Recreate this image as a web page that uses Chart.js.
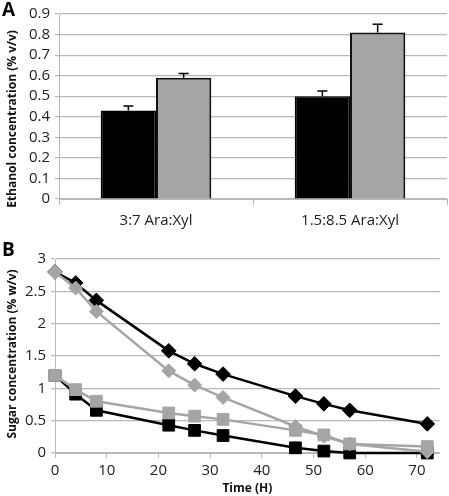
<!DOCTYPE html>
<html>
<head>
<meta charset="utf-8">
<script src="https://cdn.jsdelivr.net/npm/chart.js@4.4.0/dist/chart.umd.min.js"></script>
<style>
    body { margin: 0; background: #fff; width: 449px; height: 496px; position: relative; overflow: hidden; font-family: "Open Sans", sans-serif; }
    .panel { position: absolute; left: 0; }
    .tag { position: absolute; left: 2px; font: bold 19px "Open Sans", sans-serif; color: #000; }
</style>
</head>
<body>
<div class="panel" style="top:0"><canvas id="ethanolChart" width="449" height="240"></canvas></div>
<div class="panel" style="top:240px"><canvas id="sugarChart" width="449" height="256"></canvas></div>
<div class="tag" style="top:-4px">A</div>
<div class="tag" style="top:236px">B</div>
<script>
// Panel A - ethanol
const groups = ['3:7 Ara:Xyl', '1.5:8.5 Ara:Xyl'];
const ethanolBlack = [0.43, 0.50];
const errBlack = [0.022, 0.025];
const ethanolGray = [0.59, 0.81];
const errGray = [0.02, 0.04];

// Panel B - sugar
const timeH = [0, 4, 8, 22, 27, 32.5, 46.5, 52, 57, 72];
const diamondBlack = [2.8, 2.63, 2.36, 1.58, 1.38, 1.22, 0.88, 0.76, 0.66, 0.45];
const diamondGray = [2.8, 2.55, 2.19, 1.27, 1.05, 0.86, 0.41, 0.26, 0.14, 0.02];
const squareGray = [1.2, 0.98, 0.8, 0.62, 0.57, 0.52, 0.35, 0.28, 0.14, 0.1];
const squareBlack = [1.2, 0.91, 0.66, 0.43, 0.35, 0.27, 0.08, 0.03, 0.0, 0.0];
const timeTicks = [0, 10, 20, 30, 40, 50, 60, 70];

const GRAY = '#a5a5a5';
const GRID = '#b8b8b8';
const tickFont = { family: 'Open Sans', size: 15 };
const titleFont = { family: 'Open Sans', size: 12, weight: 'bold' };

// whisker on top of each bar
const errorBars = {
    id: 'errorBars',
    afterDatasetsDraw(chart) {
        const ctx = chart.ctx;
        const y = chart.scales.y;
        chart.data.datasets.forEach((ds, i) => {
            if (!ds.errors) return;
            chart.getDatasetMeta(i).data.forEach((bar, j) => {
                const y0 = y.getPixelForValue(ds.data[j]);
                const y1 = y.getPixelForValue(ds.data[j] + ds.errors[j]);
                ctx.save();
                ctx.strokeStyle = '#000';
                ctx.lineWidth = 1.5;
                ctx.beginPath();
                ctx.moveTo(bar.x, y0);
                ctx.lineTo(bar.x, y1);
                ctx.moveTo(bar.x - 5, y1);
                ctx.lineTo(bar.x + 5, y1);
                ctx.stroke();
                ctx.restore();
            });
        });
    }
};

// rotated y title, placed where the original has it
const sideTitle = {
    id: 'sideTitle',
    afterDraw(chart, args, opts) {
        const ctx = chart.ctx;
        ctx.save();
        ctx.translate(opts.x, opts.y);
        ctx.rotate(-Math.PI / 2);
        ctx.font = 'bold 12px "Open Sans"';
        ctx.fillStyle = '#111';
        ctx.textAlign = 'center';
        ctx.textBaseline = 'middle';
        ctx.fillText(opts.text, 0, 0);
        ctx.restore();
    }
};

new Chart(document.getElementById('ethanolChart'), {
    type: 'bar',
    data: {
        labels: groups,
        datasets: [
            { data: ethanolBlack, errors: errBlack, backgroundColor: '#000', borderColor: '#000', borderWidth: 1.5 },
            { data: ethanolGray, errors: errGray, backgroundColor: GRAY, borderColor: '#111', borderWidth: 2 }
        ]
    },
    options: {
        responsive: false,
        animation: false,
        layout: { padding: { top: 14, right: 2 } },
        datasets: { bar: { categoryPercentage: 0.57, barPercentage: 1.0 } },
        plugins: {
            legend: { display: false }, tooltip: { enabled: false },
            sideTitle: { text: 'Ethanol concentration (% v/v)', x: 13, y: 119 }
        },
        scales: {
            x: {
                grid: { drawOnChartArea: false, drawTicks: true, tickLength: 6, color: GRID, offset: true },
                border: { color: GRID },
                ticks: { color: '#222', font: tickFont, padding: 7 },
                afterFit(s) { s.height = 41; }
            },
            y: {
                min: 0, max: 0.9,
                ticks: { stepSize: 0.1, autoSkip: false, color: '#222', font: tickFont, padding: 5, callback: v => v === 0 ? '0' : v.toFixed(1) },
                grid: { color: GRID, lineWidth: 1.2, tickLength: 4 },
                border: { color: GRID },
                afterFit(s) { s.width = 59; }
            }
        }
    },
    plugins: [errorBars, sideTitle]
});

const lineSet = (data, color, style, r) => ({
    data: timeH.map((t, i) => ({ x: t, y: data[i] })),
    borderColor: color, backgroundColor: color,
    pointBorderColor: color, pointBackgroundColor: color,
    borderWidth: 2.5, pointStyle: style, pointRadius: r, pointBorderWidth: 1
});

new Chart(document.getElementById('sugarChart'), {
    type: 'line',
    data: {
        datasets: [
            lineSet(diamondGray, GRAY, 'rectRot', 7),
            lineSet(squareGray, GRAY, 'rect', 8.3),
            lineSet(diamondBlack, '#000', 'rectRot', 7.3),
            lineSet(squareBlack, '#000', 'rect', 8.3)
        ]
    },
    options: {
        responsive: false,
        animation: false,
        clip: false,
        layout: { padding: { top: 19, right: 2 } },
        plugins: {
            legend: { display: false }, tooltip: { enabled: false },
            sideTitle: { text: 'Sugar concentration (% w/v)', x: 13, y: 114 }
        },
        scales: {
            x: {
                type: 'linear', min: 0, max: 74.4,
                afterBuildTicks(s) { s.ticks = timeTicks.map(v => ({ value: v })); },
                grid: { drawOnChartArea: false, drawTicks: true, tickLength: 5, color: GRID },
                border: { color: GRID },
                ticks: { color: '#222', font: tickFont, padding: 4, maxRotation: 0, autoSkip: false },
                title: { display: true, text: 'Time (H)', color: '#111', font: titleFont, padding: 0 },
                afterFit(s) { s.height = 43; }
            },
            y: {
                min: 0, max: 3,
                ticks: { stepSize: 0.5, autoSkip: false, color: '#222', font: tickFont, padding: 5, callback: v => String(v) },
                grid: { color: GRID, lineWidth: 1.2, tickLength: 4 },
                border: { color: GRID },
                afterFit(s) { s.width = 55; }
            }
        }
    },
    plugins: [sideTitle]
});
</script>
</body>
</html>
